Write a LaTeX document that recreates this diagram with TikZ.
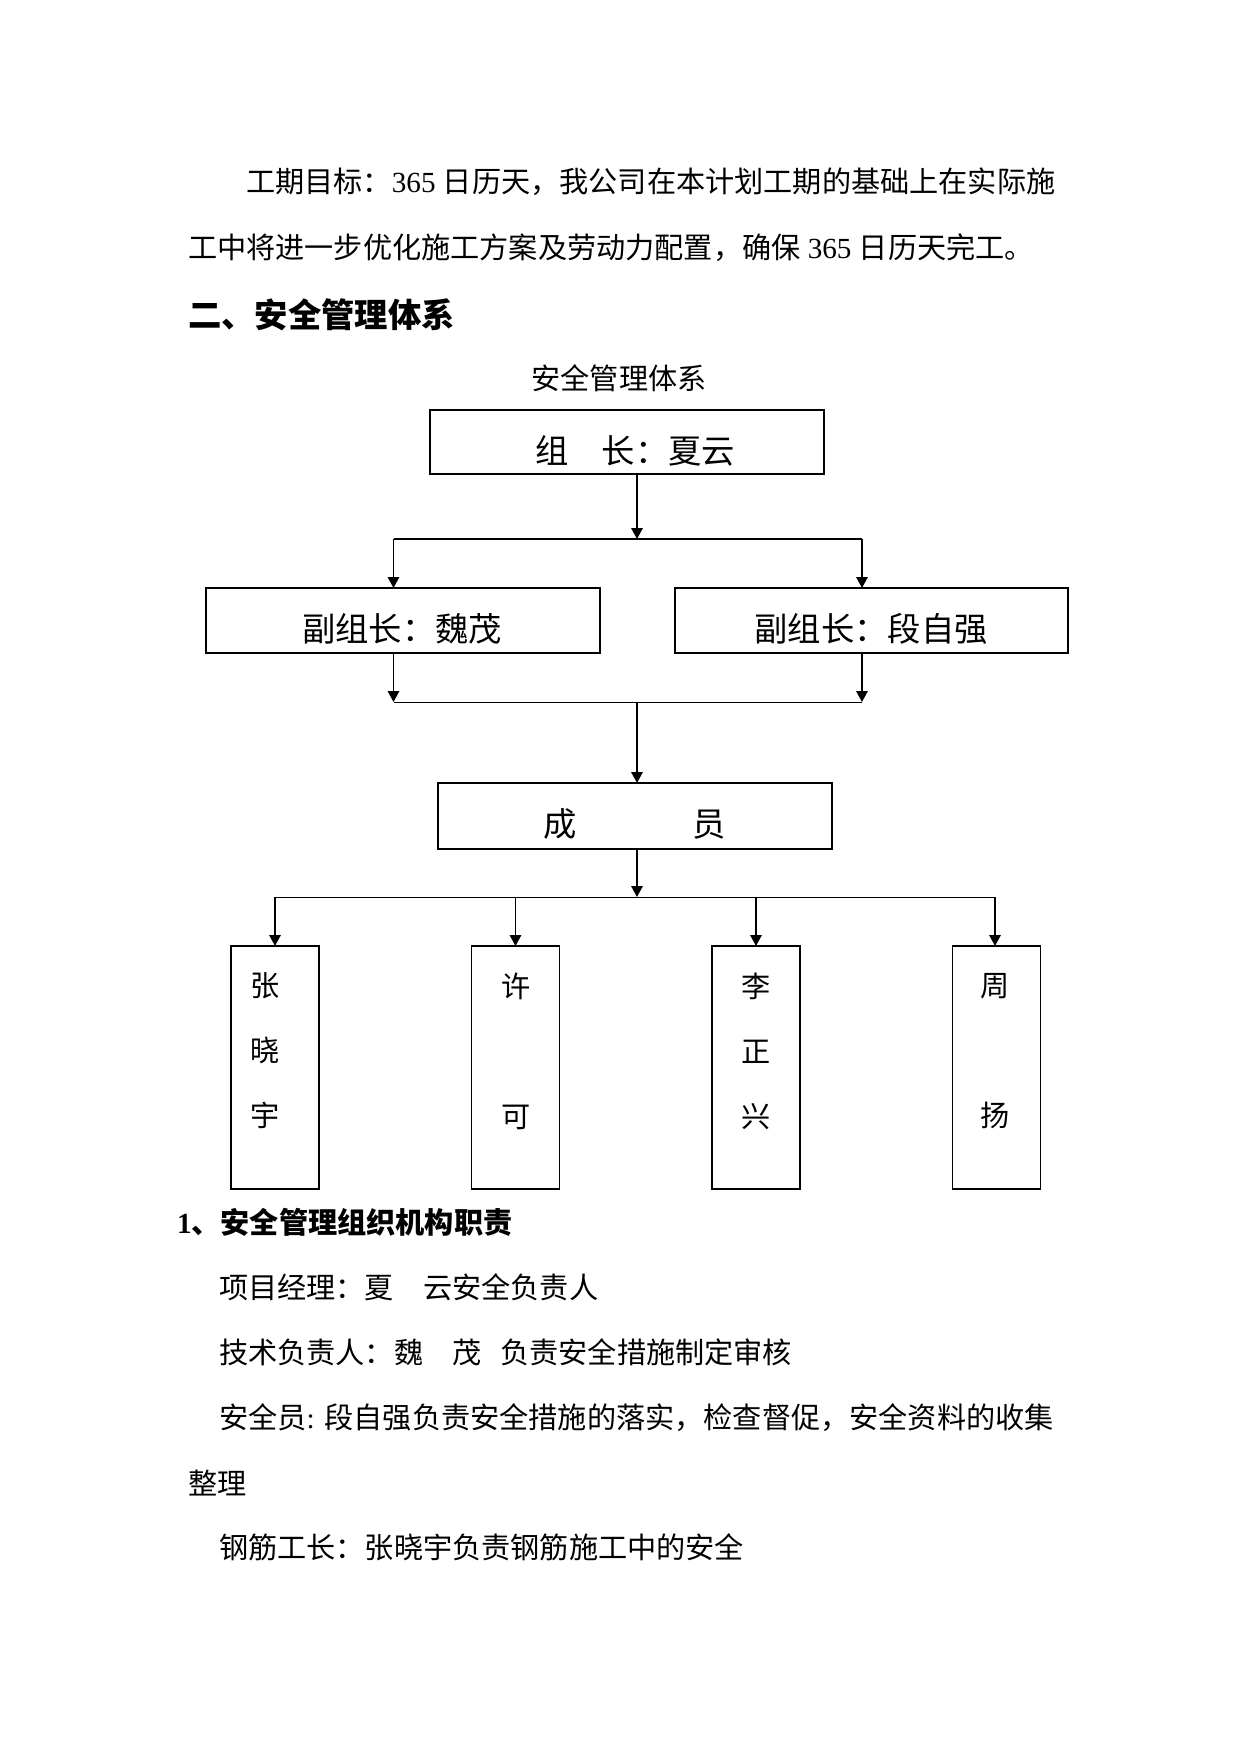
\documentclass[tikz,border=0pt]{standalone}
\usepackage{fontspec}
\setmainfont{Liberation Serif}
\newfontfamily\cjk{Noto Sans CJK SC}
\usetikzlibrary{arrows.meta}
\XeTeXlinebreaklocale "zh"
\XeTeXlinebreakskip=0pt plus 1pt
\begin{document}
\begin{tikzpicture}[x=0.48pt,y=-0.48pt,
  every node/.style={inner sep=0pt, outer sep=0pt, font=\cjk\fontsize{14pt}{16pt}\selectfont},
  txt/.style={anchor=west},
  head/.style={anchor=west, font=\cjk\bfseries\fontsize{16pt}{18pt}\selectfont},
  subhead/.style={anchor=west, font=\cjk\bfseries\fontsize{14pt}{16pt}\selectfont},
  box/.style={draw, line width=0.8pt},
  boxtext/.style={font=\cjk\fontsize{16pt}{18pt}\selectfont},
  member/.style={align=center, font=\cjk\fontsize{14pt}{31.2pt}\selectfont},
  arr/.style={line width=0.85pt, -{Triangle[length=5.2pt,width=5.4pt]}},
  thick line/.style={line width=0.8pt},
  thin line/.style={line width=0.4pt}]
\useasboundingbox (0,0) rectangle (1241,1754);

% paragraph text
\node[txt] (l1) at (246,182) {工期目标：{\rmfamily 365 }日历天，我公司在本计划工期的基础上在实际施};
\node[txt] (l2) at (188,248) {工中将进一步优化施工方案及劳动力配置，确保{\rmfamily\ 365 }日历天完工。};
\node[head] (h1) at (188,315) {二、安全管理体系};
\node (title) at (619,378) {安全管理体系};

% boxes
\node[box, minimum width={394*0.48pt}, minimum height={64*0.48pt}] (b1) at (627,442) {};
\node[boxtext] (b1t) at (635,451) {组　长：夏云};
\node[box, minimum width={394*0.48pt}, minimum height={65*0.48pt}] (b2l) at (403,620.5) {};
\node[boxtext] (b2lt) at (402,629) {副组长：魏茂};
\node[box, minimum width={393*0.48pt}, minimum height={65*0.48pt}] (b2r) at (871.5,620.5) {};
\node[boxtext] (b2rt) at (871,629) {副组长：段自强};
\node[box, minimum width={394*0.48pt}, minimum height={66*0.48pt}] (b3) at (635,816) {};
\node[boxtext] (b3t) at (634.5,824) {成\hspace{55.5pt}员};

\foreach \n/\x in {m1/275,m2/515.5,m3/756,m4/996.5}
  \node[box, minimum width={88*0.48pt}, minimum height={243*0.48pt}] (\n) at (\x,1067.5) {};
\node[member] (m1t) at (265,1051) {张\\晓\\宇};
\node[member] (m2t) at (516,1051) {许\\[31.2pt]可};
\node[member] (m3t) at (756,1051) {李\\正\\兴};
\node[member] (m4t) at (995,1051) {周\\[31.2pt]扬};

% junction coordinates
\coordinate (j1) at (637,539);
\coordinate (j1L) at (393.5,539);
\coordinate (j1R) at (862,539);
\coordinate (j2) at (637,702);
\coordinate (j2L) at (393.5,702);
\coordinate (j2R) at (862,702);
\coordinate (j3) at (637,897);
\coordinate (j3L) at (275,897);
\coordinate (j3R) at (995,897);

% connectors
\draw[arr] (b1.south -| j1) -- (j1);
\draw[thick line] (j1L) -- (j1R);
\draw[arr] (j1L) -- (j1L |- b2l.north);
\draw[arr] (j1R) -- (j1R |- b2r.north);
\draw[arr] (b2l.south -| j2L) -- (j2L);
\draw[arr] (b2r.south -| j2R) -- (j2R);
\draw[thin line] (j2L) -- (j2R);
\draw[arr] (j2) -- (j2 |- b3.north);
\draw[arr] (b3.south -| j3) -- (j3);
\draw[thin line] (j3L) -- (j3R);
\draw[arr] (j3L) -- (j3L |- m1.north);
\draw[arr] (m2.north |- j3) -- (m2.north);
\draw[arr] (m3.north |- j3) -- (m3.north);
\draw[arr] (j3R) -- (j3R |- m4.north);

% lower text
\node[subhead] (h2) at (177,1222) {{\rmfamily\bfseries 1}、安全管理组织机构职责};
\node[txt] (p1) at (219,1287) {项目经理：夏　云安全负责人};
\node[txt] (p2) at (219,1352) {技术负责人：魏　茂\hspace{0.65em}负责安全措施制定审核};
\node[txt] (p3) at (219,1418) {\makebox[399.8pt][s]{安全员{\rmfamily :}\hspace{4.8pt}段自强负责安全措施的落实，检查督促，安全资料的收集}};
\node[txt] (p4) at (188,1483) {整理};
\node[txt] (p5) at (219,1547) {钢筋工长：张晓宇负责钢筋施工中的安全};
\end{tikzpicture}
\end{document}
